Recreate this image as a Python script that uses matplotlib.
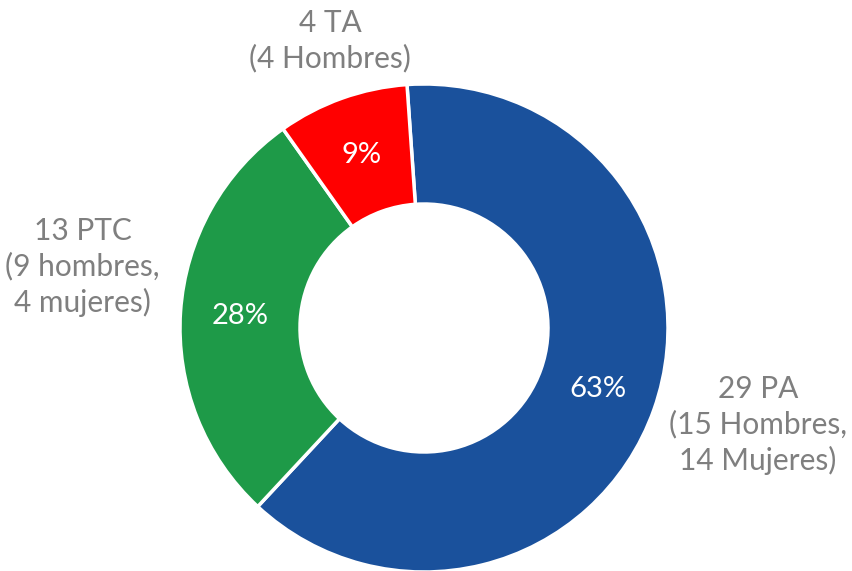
import matplotlib.pyplot as plt

# datos
categorias = ["29 PA\n(15 Hombres,\n14 Mujeres)",
              "13 PTC\n(9 hombres,\n4 mujeres)",
              "4 TA\n(4 Hombres)"]
valores = [29, 13, 4]
colores = ["#1a519c", "#1e9a48", "#ff0000"]

plt.rcParams['font.family'] = ['Lato', 'DejaVu Sans']

W, H = 852, 571
fig = plt.figure(figsize=(W / 100, H / 100), dpi=100)
ax = fig.add_axes([0, 0, 1, 1])

cx, cy, r = 424, H - 328, 244
wedges, textos, pcts = ax.pie(
    valores, colors=colores, startangle=94, counterclock=False,
    center=(cx, cy), radius=r, frame=True,
    autopct=lambda p: f"{p:.0f}%", pctdistance=0.755,
    wedgeprops=dict(width=120, edgecolor='white', linewidth=2.5),
    textprops=dict(color='white', fontsize=21))
ax.set_xlim(0, W)
ax.set_ylim(0, H)
ax.set_aspect('equal')
ax.axis('off')

# etiquetas exteriores
gris = '#7f7f7f'
pos = [(758, H - 425, 'center'), (160, H - 267, 'right'), (330, H - 41, 'center')]
for txt, (x, y, ha) in zip(categorias, pos):
    ax.text(x, y, txt, ha=ha, va='center', color=gris, fontsize=21.5,
            multialignment='center', linespacing=1.3)

fig.savefig('out.png', dpi=100)
